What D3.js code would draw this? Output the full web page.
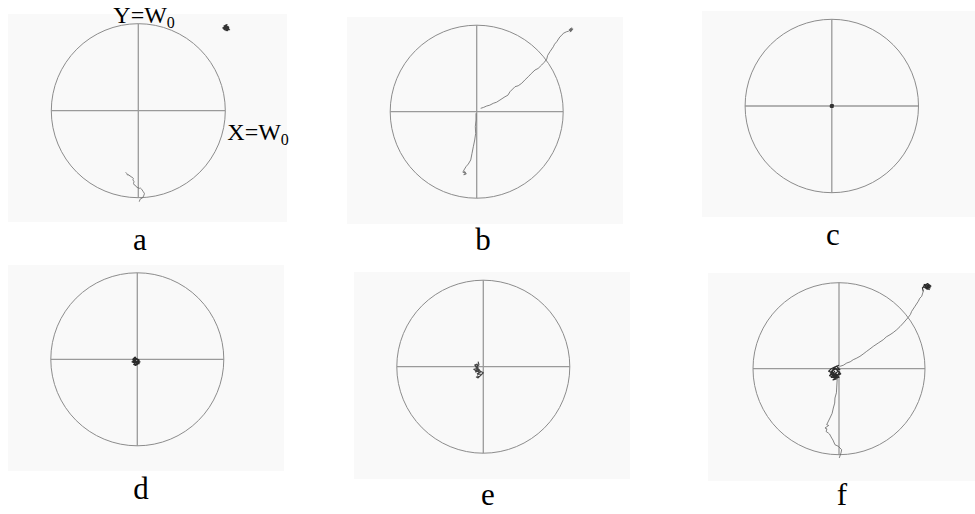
<!DOCTYPE html>
<html>
<head>
<meta charset="utf-8">
<script src="https://cdn.jsdelivr.net/npm/d3@7"></script>
<style>
  body { margin: 0; background: #fff; }
  svg { display: block; }
</style>
</head>
<body>
<script>
// panel labels
var panelNames = ["a", "b", "c", "d", "e", "f"];

// trajectories, in units of W0 (circle radius = 1)
var aPath = [[-0.145,-0.708],[-0.13,-0.725],[-0.126,-0.739],[-0.112,-0.735],[-0.107,-0.747],[-0.095,-0.745],[-0.087,-0.759],
  [-0.07,-0.765],[-0.057,-0.777],[-0.062,-0.795],[-0.049,-0.816],[-0.055,-0.835],[-0.046,-0.854],[-0.03,-0.862],
  [-0.018,-0.880],[0.011,-0.892],[0.025,-0.89],[0.039,-0.903],[0.057,-0.931],[0.07,-0.95],[0.066,-0.969],
  [0.051,-1.0],[0.020,-1.018],[0.011,-1.046]];
var aCluster = [[0.98,0.97],[1.02,0.99],[1.0,0.95],[1.04,0.96],[0.99,0.93],[1.03,0.92],[1.01,0.97],[0.97,0.95],
  [1.02,0.94],[1.05,0.93],[1.0,0.98],[0.98,0.94],[1.03,0.97],[1.01,0.92],[1.04,0.95],[0.99,0.96]];

var bUp = [[0.046,0.039],[0.08,0.05],[0.116,0.066],[0.15,0.075],[0.192,0.097],[0.23,0.11],[0.269,0.135],
  [0.327,0.173],[0.36,0.19],[0.385,0.231],[0.443,0.289],[0.48,0.30],[0.520,0.328],[0.56,0.37],[0.597,0.405],
  [0.63,0.44],[0.674,0.482],[0.71,0.50],[0.751,0.540],[0.78,0.57],[0.809,0.606],[0.82,0.65],[0.847,0.694],
  [0.886,0.751],[0.90,0.78],[0.925,0.809],[0.963,0.867],[0.98,0.88],[1.001,0.906],[1.040,0.925],[1.06,0.93],
  [1.09,0.96],[1.07,0.94],[1.11,0.95],[1.08,0.92],[1.10,0.97],[1.07,0.95],[1.09,0.93],[1.11,0.96],[1.08,0.94]];
var bDown = [[-0.008,-0.018],[-0.008,-0.096],[-0.016,-0.173],[-0.012,-0.250],[-0.023,-0.327],[-0.039,-0.405],
  [-0.054,-0.481],[-0.069,-0.558],[-0.097,-0.605],[-0.124,-0.636],[-0.147,-0.674],[-0.16,-0.70],[-0.13,-0.71],
  [-0.15,-0.73],[-0.12,-0.72],[-0.14,-0.69],[-0.135,-0.712]];

var cDot = [[0,0],[0.012,0.008],[-0.008,0.01],[-0.01,-0.008],[0.01,-0.01],[0,0]];

var dCluster = [[-0.02,0.03],[-0.04,0.01],[-0.01,0.0],[-0.05,-0.01],[-0.02,-0.02],[-0.06,-0.03],[-0.03,-0.04],
  [0.0,-0.02],[0.03,-0.03],[-0.01,-0.05],[-0.04,-0.06],[-0.02,-0.07],[0.01,-0.05],[0.02,-0.01],[-0.03,0.02],
  [-0.05,0.0],[-0.02,-0.03],[0.02,-0.05],[-0.01,-0.04]];

var eCluster = [[-0.06,0.06],[-0.05,0.02],[-0.09,0.0],[-0.07,-0.02],[-0.11,-0.03],[-0.08,-0.05],[-0.05,-0.03],
  [-0.03,-0.06],[-0.07,-0.08],[-0.02,-0.09],[-0.04,-0.11],[-0.08,-0.12],[-0.06,-0.13],[-0.03,-0.1],[0.0,-0.07],
  [-0.04,-0.05],[-0.09,-0.06],[-0.06,-0.01],[-0.1,0.02],[-0.07,0.03],[-0.05,-0.08],[-0.07,-0.1]];

var fUp = [[0.012,0.028],[0.05,0.04],[0.090,0.066],[0.13,0.08],[0.166,0.105],[0.2,0.12],[0.244,0.144],
  [0.28,0.17],[0.322,0.202],[0.36,0.23],[0.399,0.260],[0.457,0.299],[0.515,0.337],[0.55,0.37],[0.593,0.395],
  [0.63,0.42],[0.671,0.453],[0.71,0.49],[0.748,0.531],[0.806,0.598],[0.83,0.63],[0.845,0.667],[0.884,0.726],
  [0.922,0.784],[0.94,0.82],[0.962,0.842],[0.980,0.900]];
var fTop = [[0.98,0.90],[0.97,0.94],[1.01,0.96],[0.99,0.98],[1.04,0.97],[1.06,0.94],[1.02,0.93],[1.07,0.96],
  [1.03,0.99],[0.98,0.96],[1.05,0.92],[1.0,0.94],[1.04,0.95],[1.01,0.98],[1.06,0.97],[0.99,0.95],[1.03,0.92]];
var fCenter = [[0.0,0.04],[-0.05,0.02],[-0.09,0.0],[-0.12,-0.03],[-0.08,-0.05],[-0.11,-0.08],[-0.06,-0.1],
  [-0.03,-0.12],[-0.07,-0.13],[-0.02,-0.08],[0.02,-0.06],[-0.01,-0.03],[-0.05,-0.06],[-0.1,-0.04],[-0.04,0.0],
  [0.01,-0.01],[-0.03,0.03],[-0.08,-0.02],[-0.06,-0.07],[-0.02,-0.11],[-0.04,-0.05],[0.0,-0.1],[-0.09,-0.1],
  [-0.05,-0.03],[-0.07,-0.06],[-0.03,-0.08],[-0.1,-0.06],[-0.04,-0.1],[0.01,-0.04],[-0.06,0.01]];
var fDown = [[-0.020,-0.108],[-0.027,-0.224],[-0.03,-0.28],[-0.047,-0.341],[-0.05,-0.40],[-0.066,-0.457],
  [-0.08,-0.52],[-0.105,-0.573],[-0.143,-0.651],[-0.12,-0.66],[-0.163,-0.690],[-0.14,-0.70],[-0.15,-0.73],
  [-0.124,-0.748],[-0.11,-0.76],[-0.085,-0.806],[-0.07,-0.83],[-0.047,-0.884],[-0.008,-0.902],[0.031,-0.942],
  [0.023,-0.980],[0.003,-1.038]];

// layout of each panel (pixels)
var layout = [
  {bg: [8, 14, 279, 208],  cx: 138.3, cy: 110.7, r: 87,   lx: 140, ly: 250},
  {bg: [347, 17, 276, 207], cx: 476.7, cy: 111.7, r: 86.5, lx: 483, ly: 250},
  {bg: [702, 11, 273, 206], cx: 831.8, cy: 106,   r: 86.7, lx: 833, ly: 245},
  {bg: [8, 265, 276, 206],  cx: 137.3, cy: 359.3, r: 86.5, lx: 141, ly: 499},
  {bg: [354, 272, 276, 207], cx: 483.3, cy: 366.7, r: 86.5, lx: 488, ly: 505},
  {bg: [708, 273, 267, 208], cx: 839,   cy: 368.7, r: 86,   lx: 842, ly: 505}
];

var tracks = [
  [{pts: aPath, c: "#666", w: 0.8}, {pts: aCluster, c: "#333", w: 1.1}],
  [{pts: bUp, c: "#666", w: 0.8}, {pts: bDown, c: "#666", w: 0.8}],
  [{pts: cDot, c: "#333", w: 2.5}],
  [{pts: dCluster, c: "#2a2a2a", w: 1.4}],
  [{pts: eCluster, c: "#444", w: 1.1}],
  [{pts: fUp, c: "#666", w: 0.8}, {pts: fTop, c: "#2a2a2a", w: 1.1}, {pts: fCenter, c: "#2a2a2a", w: 1.2}, {pts: fDown, c: "#666", w: 0.8}]
];

var serif = "'Liberation Serif', 'Times New Roman', serif";

var svg = d3.select("body").append("svg")
  .attr("width", 975)
  .attr("height", 514);

layout.forEach(function(p, i) {
  var g = svg.append("g");
  var x = d3.scaleLinear().domain([-1, 1]).range([p.cx - p.r, p.cx + p.r]);
  var y = d3.scaleLinear().domain([-1, 1]).range([p.cy + p.r, p.cy - p.r]);

  g.append("rect")
    .attr("x", p.bg[0]).attr("y", p.bg[1])
    .attr("width", p.bg[2]).attr("height", p.bg[3])
    .attr("fill", "#f9f9f9");

  // crosshair
  g.append("line")
    .attr("x1", x(-1)).attr("x2", x(1)).attr("y1", y(0)).attr("y2", y(0))
    .attr("stroke", "#9a9a9a").attr("stroke-width", 1.3);
  g.append("line")
    .attr("x1", x(0)).attr("x2", x(0)).attr("y1", y(1)).attr("y2", y(-1))
    .attr("stroke", "#9a9a9a").attr("stroke-width", 1.3);

  g.append("circle")
    .attr("cx", x(0)).attr("cy", y(0))
    .attr("r", x(1) - x(0))
    .attr("fill", "none")
    .attr("stroke", "#8c8c8c").attr("stroke-width", 1);

  var line = d3.line()
    .x(function(d) { return x(d[0]); })
    .y(function(d) { return y(d[1]); });

  tracks[i].forEach(function(t) {
    g.append("path")
      .attr("d", line(t.pts))
      .attr("fill", "none")
      .attr("stroke", t.c)
      .attr("stroke-width", t.w)
      .attr("stroke-linejoin", "round");
  });

  g.append("text")
    .attr("x", p.lx).attr("y", p.ly)
    .attr("text-anchor", "middle")
    .attr("font-family", serif)
    .attr("font-size", 31)
    .text(panelNames[i]);

  // axis names only on the first panel
  if (i === 0) {
    var ty = g.append("text").attr("x", x(0) - 25).attr("y", 23)
      .attr("font-family", serif).attr("font-size", 24);
    ty.append("tspan").text("Y=W");
    ty.append("tspan").attr("dy", 5).attr("font-size", 16).text("0");
    var tx = g.append("text").attr("x", x(1) + 2).attr("y", y(0) + 29)
      .attr("font-family", serif).attr("font-size", 24);
    tx.append("tspan").text("X=W");
    tx.append("tspan").attr("dy", 5).attr("font-size", 16).text("0");
  }
});
</script>
</body>
</html>
